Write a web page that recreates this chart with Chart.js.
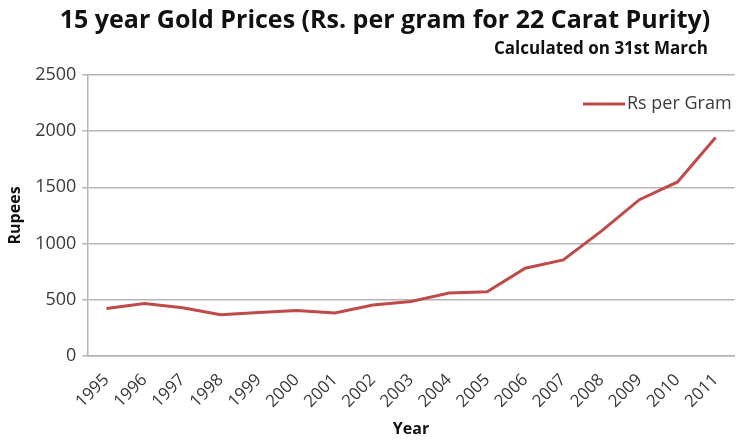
<!DOCTYPE html>
<html>
<head>
<meta charset="utf-8">
<script src="https://cdn.jsdelivr.net/npm/chart.js@4.4.1/dist/chart.umd.min.js"></script>
<style>
  html, body { margin: 0; padding: 0; background: #fff; }
  #wrap { width: 736px; height: 441px; position: relative; }
</style>
</head>
<body>
<div id="wrap"><canvas id="chart"></canvas></div>
<script>
const YEARS = ["1995", "1996", "1997", "1998", "1999", "2000", "2001", "2002", "2003",
  "2004", "2005", "2006", "2007", "2008", "2009", "2010", "2011"];
const RS_PER_GRAM = [422, 467, 428, 366, 387, 405, 381, 453, 485,
  560, 571, 780, 854, 1110, 1390, 1548, 1944];
const Y_TICKS = [0, 500, 1000, 1500, 2000, 2500];

const TITLE = "15 year Gold Prices (Rs. per gram for 22 Carat Purity)";
const SUBTITLE = "Calculated on 31st March";
const SERIES_LABEL = "Rs per Gram";
const LINE_COLOR = "#be4b48";
const GRID_COLOR = "#b4b4b4";
const TEXT_COLOR = "#3a3a3a";
const FONT = "'Open Sans', sans-serif";

// title and subtitle, drawn in the space kept free by layout.padding.top
const headings = {
  id: "headings",
  afterDraw(chart) {
    const ctx = chart.ctx;
    ctx.save();
    ctx.fillStyle = "#111";
    ctx.textBaseline = "middle";
    ctx.font = "bold 25px " + FONT;
    ctx.textAlign = "center";
    ctx.fillText(TITLE, 385, 21);
    ctx.font = "bold 17px " + FONT;
    ctx.textAlign = "right";
    ctx.fillText(SUBTITLE, 708, 49);
    ctx.restore();
  }
};

// legend drawn inside the plot, top right
const insideLegend = {
  id: "insideLegend",
  afterDraw(chart) {
    const ctx = chart.ctx;
    const ds = chart.data.datasets[0];
    const area = chart.chartArea;
    ctx.save();
    ctx.font = "18px " + FONT;
    const textW = ctx.measureText(ds.label).width;
    const right = area.right - 3;
    const y = area.top + 29;
    const textX = right - textW;
    ctx.strokeStyle = ds.borderColor;
    ctx.lineWidth = 3;
    ctx.beginPath();
    ctx.moveTo(textX - 44, y);
    ctx.lineTo(textX - 2, y);
    ctx.stroke();
    ctx.fillStyle = TEXT_COLOR;
    ctx.textBaseline = "middle";
    ctx.fillText(ds.label, textX, y);
    ctx.restore();
  }
};

const config = {
  type: "line",
  data: {
    labels: YEARS,
    datasets: [
      {
        label: SERIES_LABEL,
        data: RS_PER_GRAM,
        borderColor: LINE_COLOR,
        backgroundColor: LINE_COLOR,
        borderWidth: 3,
        pointRadius: 0,
        tension: 0,
        fill: false,
      },
    ],
  },
  options: {
    responsive: true,
    maintainAspectRatio: false,
    animation: false,
    layout: { padding: { left: 6, right: 0, top: 75, bottom: 2 } },
    plugins: {
      legend: { display: false },
      tooltip: { enabled: false },
      title: { display: false },
    },
    scales: {
      x: {
        offset: true,
        grid: { display: false },
        border: { display: true, color: GRID_COLOR, width: 1.5 },
        ticks: {
          color: TEXT_COLOR,
          font: { family: FONT, size: 17 },
          maxRotation: 45,
          minRotation: 45,
          autoSkip: false,
          padding: 6,
        },
        title: {
          display: true,
          text: "Year",
          color: "#111",
          font: { family: FONT, size: 16, weight: "bold" },
          padding: { top: 2, bottom: 0 },
        },
      },
      y: {
        min: 0,
        max: 2500,
        afterBuildTicks(axis) {
          axis.ticks = Y_TICKS.map((v) => ({ value: v }));
        },
        grid: { color: GRID_COLOR, lineWidth: 1.5, tickLength: 5 },
        border: { display: true, color: GRID_COLOR, width: 1.5 },
        ticks: {
          color: TEXT_COLOR,
          font: { family: FONT, size: 18 },
          padding: 6,
          callback: (v) => String(v),
        },
        title: {
          display: true,
          text: "Rupees",
          color: "#111",
          font: { family: FONT, size: 16, weight: "bold" },
          padding: { top: 0, bottom: 4 },
        },
      },
    },
  },
  plugins: [headings, insideLegend],
};

let chart = new Chart(document.getElementById("chart"), config);
</script>
</body>
</html>
